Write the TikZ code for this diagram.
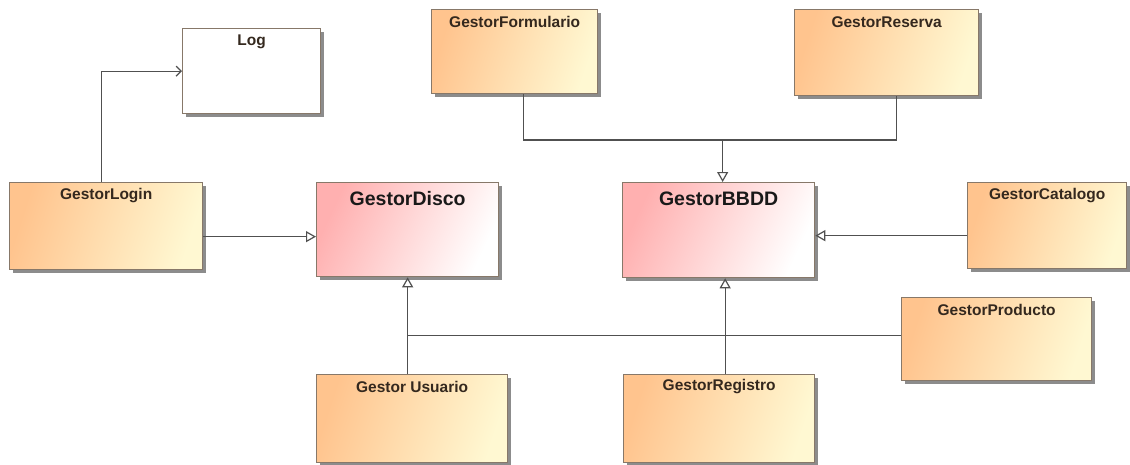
\documentclass[tikz,border=0pt]{standalone}
\usepackage{fontspec}
\setmainfont{Liberation Sans}
\usetikzlibrary{arrows.meta,shadows,calc}

\definecolor{orangeA}{RGB}{255,196,142}
\definecolor{orangeB}{RGB}{255,248,210}
\definecolor{pinkA}{RGB}{255,176,176}
\definecolor{pinkB}{RGB}{255,255,255}
\definecolor{boxline}{RGB}{135,120,105}
\definecolor{conn}{RGB}{80,80,80}
\definecolor{titletext}{RGB}{52,40,30}

\tikzset{
  umlbox/.style={draw=boxline, line width=1.3pt, rectangle, anchor=north west,
    inner sep=0pt, drop shadow={shadow xshift=3pt, shadow yshift=-3pt, fill=black!45, opacity=1}},
  ctrl/.style={umlbox, top color=orangeA, bottom color=orangeB, shading angle=72},
  iface/.style={umlbox, top color=pinkA, bottom color=pinkB, shading angle=65},
  plain/.style={umlbox, fill=white},
  smalltitle/.style={font=\bfseries\fontsize{15.5}{17}\selectfont, text=titletext, inner sep=0pt},
  bigtitle/.style={font=\bfseries\fontsize{19.5}{21}\selectfont, text=black!90, inner sep=0pt},
  gen/.style={draw=conn, line width=1.3pt, -{Triangle[open, length=10pt, width=11pt, line width=1.2pt, fill=white]}},
  assoc/.style={draw=conn, line width=1.3pt, -{Straight Barb[length=5pt, width=10pt, line width=1.2pt]}},
  link/.style={draw=conn, line width=1.3pt}
}

\begin{document}
\begin{tikzpicture}[x=1pt, y=-1pt]
  \useasboundingbox (0,0) rectangle (1130,464);

  % class boxes
  \node[plain, minimum width=138pt, minimum height=85pt] (log) at (182,28) {};
  \node[ctrl, minimum width=193pt, minimum height=87pt] (login) at (9,182) {};
  \node[iface, minimum width=182pt, minimum height=94pt] (disco) at (316,182) {};
  \node[ctrl, minimum width=166pt, minimum height=84pt] (form) at (431,9) {};
  \node[ctrl, minimum width=184pt, minimum height=86pt] (reserva) at (794,9) {};
  \node[iface, minimum width=192pt, minimum height=95pt] (bbdd) at (622,182) {};
  \node[ctrl, minimum width=159pt, minimum height=86pt] (catalogo) at (967,182) {};
  \node[ctrl, minimum width=190pt, minimum height=83pt] (producto) at (901,297) {};
  \node[ctrl, minimum width=191pt, minimum height=88pt] (usuario) at (316,374) {};
  \node[ctrl, minimum width=191pt, minimum height=88pt] (registro) at (623,374) {};

  % class names
  \node[smalltitle] (logT) at ([yshift=-14pt]log.north) {Log};
  \node[smalltitle] (loginT) at ([yshift=-14pt]login.north) {GestorLogin};
  \node[bigtitle] (discoT) at ([yshift=-17pt]disco.north) {GestorDisco};
  \node[smalltitle] (formT) at ([yshift=-13pt]form.north) {GestorFormulario};
  \node[smalltitle] (reservaT) at ([yshift=-13pt]reserva.north) {GestorReserva};
  \node[bigtitle] (bbddT) at ([yshift=-17pt]bbdd.north) {GestorBBDD};
  \node[smalltitle] (catalogoT) at ([yshift=-14pt]catalogo.north) {GestorCatalogo};
  \node[smalltitle] (productoT) at ([yshift=-13pt]producto.north) {GestorProducto};
  \node[smalltitle] (usuarioT) at ([yshift=-13pt]usuario.north) {Gestor Usuario};
  \node[smalltitle] (registroT) at ([yshift=-13pt]registro.north) {GestorRegistro};

  % association to the log
  \draw[assoc] ([xshift=-4.5pt]login.north) |- (log.west);

  % generalizations
  \coordinate (loginOut) at ([yshift=-10.5pt]login.east);
  \draw[gen] (loginOut) -- (disco.west |- loginOut);
  \coordinate (catOut) at ([yshift=-10pt]catalogo.west);
  \draw[gen] (catOut) -- (bbdd.east |- catOut);

  \coordinate (topjoin) at ($(bbdd.north)+(4pt,42pt)$);
  \draw[link] ([xshift=9pt]form.south) |- (topjoin);
  \draw[link] ([xshift=10pt]reserva.south) |- (topjoin);
  \draw[gen] (topjoin) -- (bbdd.north -| topjoin);

  \draw[gen] (disco.south |- usuario.north) -- (disco.south);
  \coordinate (prodIn) at ([yshift=3.5pt]producto.west);
  \draw[link] (prodIn) -- (disco.south |- prodIn);
  \coordinate (regOut) at ([xshift=6pt]registro.north);
  \draw[gen] (regOut) -- (bbdd.south -| regOut);
\end{tikzpicture}
\end{document}
